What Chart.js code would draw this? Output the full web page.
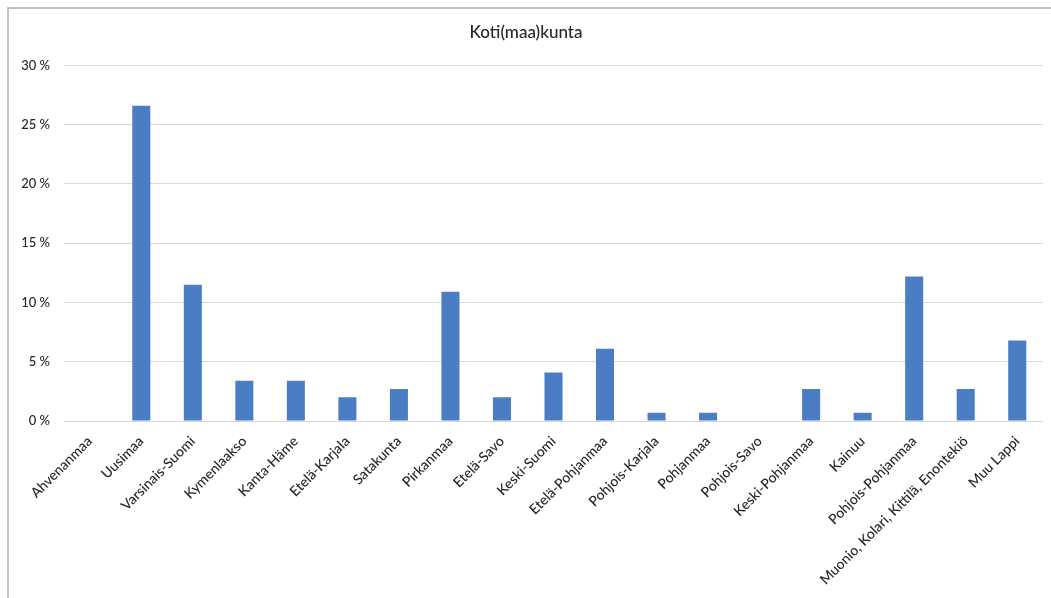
<!DOCTYPE html>
<html>
<head>
<meta charset="utf-8">
<script src="https://cdn.jsdelivr.net/npm/chart.js@4/dist/chart.umd.min.js"></script>
<style>
  html, body { margin: 0; padding: 0; background: #fff; }
  #frame {
    position: absolute; left: 7px; top: 7px;
    width: 1044px; height: 591px;
    border-top: 2px solid #c4c4c4; border-left: 2px solid #c4c4c4;
  }
  #chart { display: block; }
</style>
</head>
<body>
<div id="frame"><canvas id="chart" width="1042" height="589"></canvas></div>
<script>
const categories = [
  'Ahvenanmaa', 'Uusimaa', 'Varsinais-Suomi', 'Kymenlaakso', 'Kanta-Häme',
  'Etelä-Karjala', 'Satakunta', 'Pirkanmaa', 'Etelä-Savo', 'Keski-Suomi',
  'Etelä-Pohjanmaa', 'Pohjois-Karjala', 'Pohjanmaa', 'Pohjois-Savo',
  'Keski-Pohjanmaa', 'Kainuu', 'Pohjois-Pohjanmaa',
  'Muonio, Kolari, Kittilä, Enontekiö', 'Muu Lappi'
];
const shares = [0, 26.6, 11.5, 3.4, 3.4, 2.0, 2.7, 10.9, 2.0, 4.1, 6.1, 0.7, 0.7, 0, 2.7, 0.7, 12.2, 2.7, 6.8];
const yTicks = [0, 5, 10, 15, 20, 25, 30];

const font = 'Lato, "Open Sans", sans-serif';

new Chart(document.getElementById('chart'), {
  type: 'bar',
  data: {
    labels: categories,
    datasets: [{
      label: 'Koti(maa)kunta',
      data: shares,
      backgroundColor: '#4a7dc4',
      categoryPercentage: 1,
      barPercentage: 0.35
    }]
  },
  options: {
    responsive: false,
    animation: false,
    layout: { padding: { top: 13, right: 8, bottom: 0, left: 0 } },
    plugins: {
      legend: { display: false },
      tooltip: { enabled: false },
      title: {
        display: true,
        text: 'Koti(maa)kunta',
        color: '#262626',
        font: { family: font, size: 17, weight: 500 },
        padding: { top: 0, bottom: 23 }
      }
    },
    scales: {
      x: {
        grid: { display: false },
        border: { display: false },
        ticks: {
          autoSkip: false,
          minRotation: 45,
          maxRotation: 45,
          color: '#262626',
          font: { family: font, size: 14, weight: 500 },
          padding: 4
        },
        afterFit: s => { s.height = 177; }
      },
      y: {
        min: 0,
        max: 30,
        afterBuildTicks: s => { s.ticks = yTicks.map(v => ({ value: v })); },
        grid: { color: '#d9d9d9', drawTicks: false },
        border: { display: false },
        ticks: {
          color: '#262626',
          font: { family: font, size: 13, weight: 500 },
          padding: 14,
          callback: v => v + ' %'
        },
        afterFit: s => { s.width = 55; }
      }
    }
  }
});
</script>
</body>
</html>
